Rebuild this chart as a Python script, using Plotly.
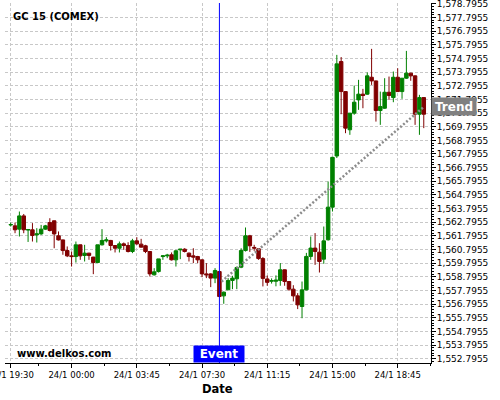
import plotly.graph_objects as go

# ---- data ----
bars = list(range(96))
open_ = [1562.60, 1562.53, 1562.29, 1563.26, 1562.22, 1562.24, 1561.87, 1561.94, 1562.29, 1562.77,
         1562.90, 1561.80, 1561.50, 1560.72, 1560.33, 1560.28, 1561.14, 1560.36, 1560.53, 1560.24,
         1559.84, 1561.14, 1561.43, 1561.46, 1561.09, 1560.89, 1561.21, 1561.09, 1560.65, 1561.43,
         1561.19, 1561.07, 1560.65, 1558.94, 1559.18, 1560.28, 1560.33, 1560.41, 1560.04, 1560.77,
         1560.82, 1560.53, 1560.33, 1560.28, 1560.04, 1559.01, 1559.01, 1558.70, 1559.18, 1557.40,
         1557.84, 1558.53, 1558.65, 1559.50, 1560.72, 1561.80, 1560.95, 1560.85, 1560.13, 1558.64,
         1558.47, 1558.47, 1558.53, 1559.31, 1558.45, 1557.89, 1557.40, 1556.62, 1557.84, 1560.29,
         1560.90, 1560.60, 1560.09, 1561.51, 1563.90, 1567.65, 1574.57, 1572.37, 1569.57, 1570.79,
         1571.76, 1572.18, 1572.18, 1573.42, 1573.15, 1570.98, 1571.15, 1572.32, 1571.93, 1573.42,
         1572.37, 1573.35, 1573.72, 1573.52, 1570.71, 1571.93]
high = [1562.77, 1562.77, 1563.58, 1563.40, 1562.29, 1562.73, 1562.36, 1562.60, 1562.60, 1563.09,
        1562.92, 1562.12, 1561.52, 1561.02, 1560.65, 1561.38, 1561.16, 1561.14, 1560.55, 1560.26,
        1561.14, 1562.29, 1561.70, 1561.50, 1561.10, 1561.38, 1561.31, 1561.33, 1561.58, 1561.70,
        1561.58, 1561.14, 1560.67, 1559.43, 1560.11, 1560.38, 1560.48, 1560.58, 1560.77, 1560.82,
        1560.89, 1560.58, 1560.89, 1560.33, 1560.06, 1559.80, 1559.06, 1559.43, 1559.20, 1557.72,
        1558.70, 1558.87, 1559.55, 1560.89, 1562.41, 1561.87, 1561.14, 1560.89, 1560.24, 1558.89,
        1558.68, 1558.90, 1559.80, 1559.33, 1558.47, 1558.18, 1557.60, 1558.45, 1560.55, 1561.75,
        1562.00, 1561.26, 1562.48, 1565.78, 1567.60, 1575.06, 1574.90, 1572.40, 1570.80, 1572.81,
        1573.23, 1572.57, 1573.77, 1575.50, 1573.17, 1572.37, 1573.35, 1573.47, 1573.84, 1574.08,
        1573.36, 1575.35, 1573.74, 1573.55, 1572.13, 1571.95]
low = [1562.48, 1561.99, 1561.75, 1561.99, 1561.35, 1561.38, 1561.31, 1561.87, 1562.24, 1562.12,
       1560.89, 1561.46, 1560.41, 1560.24, 1559.55, 1559.84, 1560.04, 1559.92, 1560.04, 1558.99,
       1559.82, 1561.09, 1561.31, 1560.72, 1560.58, 1560.58, 1560.77, 1560.58, 1560.53, 1561.14,
       1560.94, 1560.53, 1558.82, 1558.89, 1559.11, 1560.04, 1560.16, 1559.99, 1559.55, 1560.09,
       1560.58, 1559.92, 1559.80, 1559.80, 1558.77, 1558.70, 1558.04, 1558.33, 1557.35, 1556.82,
       1557.84, 1557.89, 1557.89, 1559.43, 1560.65, 1560.62, 1560.70, 1560.04, 1558.09, 1558.14,
       1558.30, 1558.10, 1558.14, 1558.14, 1557.77, 1556.99, 1556.43, 1555.76, 1557.80, 1560.04,
       1559.67, 1559.11, 1559.75, 1561.45, 1563.58, 1567.50, 1570.71, 1569.32, 1569.20, 1570.67,
       1571.03, 1571.15, 1572.13, 1572.86, 1570.17, 1569.93, 1571.10, 1571.76, 1571.59, 1572.35,
       1571.84, 1573.30, 1573.16, 1569.93, 1569.20, 1569.69]
close = [1562.62, 1562.24, 1563.26, 1562.24, 1562.26, 1561.82, 1561.94, 1562.29, 1562.53, 1562.19,
         1561.94, 1561.50, 1560.72, 1560.33, 1560.28, 1561.14, 1560.33, 1560.53, 1560.36, 1559.84,
         1561.14, 1561.46, 1561.50, 1561.09, 1560.89, 1561.21, 1561.09, 1560.65, 1561.43, 1561.21,
         1560.97, 1560.65, 1559.01, 1559.16, 1560.11, 1560.33, 1560.38, 1560.04, 1560.70, 1560.82,
         1560.65, 1560.28, 1560.24, 1560.04, 1559.01, 1558.94, 1558.70, 1559.26, 1557.35, 1557.67,
         1558.53, 1558.70, 1559.48, 1560.72, 1561.80, 1561.07, 1560.90, 1560.13, 1558.68, 1558.39,
         1558.52, 1558.55, 1559.31, 1558.45, 1557.89, 1557.40, 1556.74, 1557.84, 1560.29, 1560.90,
         1560.65, 1559.92, 1561.43, 1563.90, 1567.55, 1574.40, 1572.37, 1569.69, 1570.79, 1571.59,
         1572.18, 1572.08, 1573.52, 1573.15, 1570.98, 1571.27, 1572.32, 1572.08, 1573.42, 1572.37,
         1573.35, 1573.72, 1573.52, 1570.71, 1571.93, 1570.71]

tick_bars = [0, 14, 29, 44, 59, 74, 89]
tick_labels = ["23/1 19:30", "24/1 00:00", "24/1 03:45", "24/1 07:30",
               "24/1 11:15", "24/1 15:00", "24/1 18:45"]
minor_tick_bars = [6.5, 21.5, 36.5, 51.5, 66.5, 81.5, 96.5]

event_bar = 48
trend_bars = [48.5, 95]
trend_prices = [1558.45, 1571.25]

GREEN = "#008000"
RED = "#800000"
BLUE = "#0000FF"
FONT = "DejaVu Sans"

fig = go.Figure()
fig.add_trace(go.Scatter(x=trend_bars, y=trend_prices, mode="lines",
                         line=dict(color="#8c8c8c", width=2.5, dash="2px,2px"),
                         hoverinfo="skip", showlegend=False))
fig.add_trace(go.Candlestick(
    x=bars, open=open_, high=high, low=low, close=close,
    increasing=dict(line=dict(color=GREEN, width=1), fillcolor=GREEN),
    decreasing=dict(line=dict(color=RED, width=1), fillcolor=RED),
    whiskerwidth=0, showlegend=False))

fig.add_shape(type="line", x0=event_bar, x1=event_bar, xref="x", y0=0, y1=1, yref="paper",
              line=dict(color=BLUE, width=1), layer="above")

fig.add_annotation(text="<b>GC 15 (COMEX)</b>", xref="paper", yref="paper", x=0.0134, y=0.962,
                   xanchor="left", yanchor="middle", showarrow=False,
                   font=dict(family=FONT, size=10, color="black"))
fig.add_annotation(text="<b>www.delkos.com</b>", xref="paper", yref="paper", x=0.0235, y=0.027,
                   xanchor="left", yanchor="middle", showarrow=False,
                   font=dict(family=FONT, size=10, color="black"))
fig.add_annotation(text="<b>Date</b>", xref="paper", yref="paper", x=0.4977, y=-0.073,
                   xanchor="center", yanchor="middle", showarrow=False,
                   font=dict(family=FONT, size=11.5, color="black"))
fig.add_annotation(text="<b>Event</b>", xref="x", yref="paper", x=event_bar, y=0,
                   xanchor="center", yanchor="bottom", showarrow=False, bgcolor=BLUE,
                   width=50, height=16, borderpad=0,
                   font=dict(family=FONT, size=12, color="white"))
fig.add_annotation(text="<b>Trend</b>", xref="paper", yref="y", x=1, y=trend_prices[-1],
                   xanchor="left", yanchor="middle", showarrow=False, bgcolor="#808080",
                   width=44, height=17, borderpad=0,
                   font=dict(family=FONT, size=12, color="white"))

grid = dict(showgrid=True, gridcolor="#c8c8c8", gridwidth=1, griddash="3px,2px")

fig.update_layout(
    width=500, height=400,
    margin=dict(l=5, r=69, t=3, b=37, autoexpand=False),
    paper_bgcolor="white", plot_bgcolor="white",
    boxgap=0.2, boxgroupgap=0,
    font=dict(family=FONT, color="black"),
    xaxis=dict(range=[-1.31, 96.66], tickmode="array", tickvals=tick_bars, ticktext=tick_labels,
               ticks="outside", ticklen=4, tickcolor="black", showline=True, linecolor="black",
               linewidth=1, zeroline=False, rangeslider=dict(visible=False),
               ticklabeloverflow="allow",
               tickfont=dict(family=FONT, size=8.5, color="black"),
               minor=dict(tickmode="array", tickvals=minor_tick_bars, ticks="outside",
                          ticklen=2, tickcolor="black", showgrid=False),
               **grid),
    yaxis=dict(side="right", range=[1552.48, 1578.86], tick0=1552.7955, dtick=1,
               tickformat=",.4f", ticks="outside", ticklen=4, tickcolor="black",
               showline=True, linecolor="black", linewidth=1, zeroline=False,
               ticklabeloverflow="allow", ticklabelstandoff=-1,
               tickfont=dict(family=FONT, size=9, color="black"),
               minor=dict(tick0=1552.7955, dtick=0.2, ticks="outside", ticklen=2,
                          tickcolor="black", showgrid=False),
               **grid),
)

fig.write_html("out.html", config={"displayModeBar": False},
               post_script="document.body.style.margin='0px';")
